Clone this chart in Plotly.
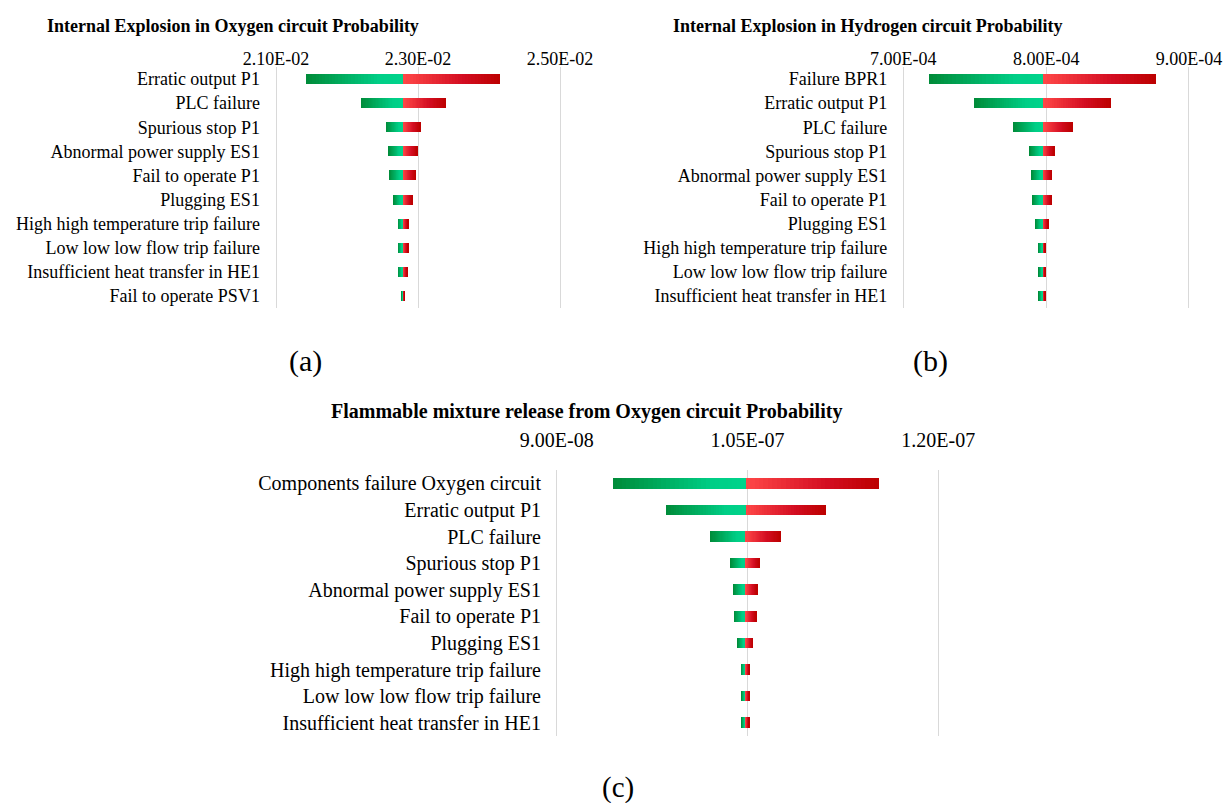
import plotly.graph_objects as go

# ---------------- data ----------------
labels_a = ["Erratic output P1", "PLC failure", "Spurious stop P1", "Abnormal power supply ES1",
            "Fail to operate P1", "Plugging ES1", "High high temperature trip failure",
            "Low low low flow trip failure", "Insufficient heat transfer in HE1", "Fail to operate PSV1"]
base_a = 2.279e-2
low_a = [2.142e-2, 2.219e-2, 2.255e-2, 2.259e-2, 2.260e-2, 2.266e-2, 2.272e-2, 2.272e-2, 2.272e-2, 2.277e-2]
high_a = [2.416e-2, 2.339e-2, 2.303e-2, 2.299e-2, 2.297e-2, 2.292e-2, 2.286e-2, 2.286e-2, 2.285e-2, 2.281e-2]
ticks_a = [2.10e-2, 2.30e-2, 2.50e-2]

labels_b = ["Failure BPR1", "Erratic output P1", "PLC failure", "Spurious stop P1",
            "Abnormal power supply ES1", "Fail to operate P1", "Plugging ES1",
            "High high temperature trip failure", "Low low low flow trip failure",
            "Insufficient heat transfer in HE1"]
base_b = 7.980e-4
low_b = [7.182e-4, 7.499e-4, 7.770e-4, 7.886e-4, 7.902e-4, 7.907e-4, 7.928e-4, 7.949e-4, 7.951e-4, 7.951e-4]
high_b = [8.772e-4, 8.455e-4, 8.189e-4, 8.058e-4, 8.042e-4, 8.040e-4, 8.016e-4, 7.995e-4, 7.995e-4, 7.995e-4]
ticks_b = [7.00e-4, 8.00e-4, 9.00e-4]

labels_c = ["Components failure Oxygen circuit", "Erratic output P1", "PLC failure", "Spurious stop P1",
            "Abnormal power supply ES1", "Fail to operate P1", "Plugging ES1",
            "High high temperature trip failure", "Low low low flow trip failure",
            "Insufficient heat transfer in HE1"]
base_c = 1.0486e-7
low_c = [9.440e-8, 9.857e-8, 1.0208e-7, 1.0370e-7, 1.0391e-7, 1.0396e-7, 1.0424e-7, 1.0452e-7, 1.0455e-7, 1.0455e-7]
high_c = [1.1531e-7, 1.1115e-7, 1.0761e-7, 1.0596e-7, 1.0575e-7, 1.0570e-7, 1.0542e-7, 1.0515e-7, 1.0515e-7, 1.0512e-7]
ticks_c = [9.00e-8, 1.05e-7, 1.20e-7]

titles = ["Internal Explosion in Oxygen circuit Probability",
          "Internal Explosion in Hydrogen circuit Probability",
          "Flammable mixture release from Oxygen circuit Probability"]

# ---------------- styling ----------------
W, H = 1223, 803
FONT = "Liberation Serif, Times New Roman, serif"
GRID = "#d9d9d9"
N_SEG = 30

GREEN_STOPS = [(0.0, (0, 138, 56)), (0.75, (0, 206, 134)), (1.0, (0, 212, 140))]
RED_STOPS = [(0.0, (255, 72, 72)), (0.6, (212, 14, 34)), (1.0, (188, 0, 0))]


def interp(stops, t):
    for (t0, c0), (t1, c1) in zip(stops[:-1], stops[1:]):
        if t <= t1:
            f = (t - t0) / (t1 - t0) if t1 > t0 else 0
            return "rgb(%d,%d,%d)" % tuple(round(a + (b - a) * f) for a, b in zip(c0, c1))
    return "rgb(%d,%d,%d)" % stops[-1][1]


def gradient_bar(labels, start, end, stops, width, xa, ya):
    """One half of a tornado bar, painted as thin overlapping slices."""
    ys, bases, lens, cols = [], [], [], []
    for lab, s, e in zip(labels, start, end):
        step = (e - s) / N_SEG
        for k in range(N_SEG):
            ys.append(lab)
            bases.append(s + step * k)
            lens.append(step * (1.6 if k < N_SEG - 1 else 1.0))
            cols.append(interp(stops, (k + 0.5) / N_SEG))
    return go.Bar(y=ys, x=lens, base=bases, orientation="h", width=width,
                  marker=dict(color=cols, line=dict(width=0)),
                  xaxis=xa, yaxis=ya, showlegend=False, hoverinfo="skip")


def px_x(p):
    return p / W


def px_y(p):
    return 1 - p / H


panels = [
    # labels, base, low, high, ticks, x-range, x-domain px, y-domain px (top, bottom),
    # bar width, font size, x-label standoff, y-label standoff
    (labels_a, base_a, low_a, high_a, ticks_a, [0.0209, 0.0251], (268.9, 567.1), (67, 308), 0.415, 18, -3, 8),
    (labels_b, base_b, low_b, high_b, ticks_b, [6.95e-4, 9.05e-4], (896.2, 1196.1), (67, 308), 0.415, 18, -3, 8),
    (labels_c, base_c, low_c, high_c, ticks_c, [8.9e-8, 1.21e-7], (544.0, 951.0), (470, 736), 0.40, 20, 18, 2),
]

fig = go.Figure()
layout = dict(width=W, height=H, margin=dict(l=0, r=0, t=0, b=0, autoexpand=False),
              paper_bgcolor="white", plot_bgcolor="white", barmode="overlay",
              font=dict(family=FONT, color="black"), bargap=0)

for i, (labs, base, low, high, ticks, xr, xd, yd, bw, fs, xso, yso) in enumerate(panels, start=1):
    xa = "x" if i == 1 else f"x{i}"
    ya = "y" if i == 1 else f"y{i}"
    fig.add_trace(gradient_bar(labs, low, [base] * len(labs), GREEN_STOPS, bw, xa, ya))
    fig.add_trace(gradient_bar(labs, [base] * len(labs), high, RED_STOPS, bw, xa, ya))
    xkey = "xaxis" if i == 1 else f"xaxis{i}"
    ykey = "yaxis" if i == 1 else f"yaxis{i}"
    layout[xkey] = dict(domain=[px_x(xd[0]), px_x(xd[1])], range=xr, anchor=ya, side="top",
                        tickvals=ticks, ticktext=[f"{v:.2E}" for v in ticks],
                        showgrid=True, gridcolor=GRID, gridwidth=1, zeroline=False,
                        showline=False, ticks="", tickfont=dict(size=fs, family=FONT),
                        ticklabelstandoff=xso, fixedrange=True, automargin=False)
    layout[ykey] = dict(domain=[px_y(yd[1]), px_y(yd[0])], anchor=xa,
                        categoryorder="array", categoryarray=labs, autorange="reversed",
                        showgrid=False, zeroline=False, showline=False, ticks="",
                        tickfont=dict(size=fs, family=FONT), ticklabelstandoff=yso,
                        fixedrange=True, automargin=False)

annotations = [
    dict(text=f"<b>{titles[0]}</b>", x=px_x(45), y=px_y(26), xanchor="left", yanchor="middle",
         font=dict(size=18)),
    dict(text=f"<b>{titles[1]}</b>", x=px_x(671), y=px_y(26), xanchor="left", yanchor="middle",
         font=dict(size=18)),
    dict(text=f"<b>{titles[2]}</b>", x=px_x(586), y=px_y(411), xanchor="center", yanchor="middle",
         font=dict(size=20)),
    dict(text="(a)", x=px_x(305), y=px_y(361), xanchor="center", yanchor="middle", font=dict(size=30)),
    dict(text="(b)", x=px_x(930), y=px_y(361), xanchor="center", yanchor="middle", font=dict(size=30)),
    dict(text="(c)", x=px_x(618), y=px_y(787), xanchor="center", yanchor="middle", font=dict(size=29)),
]
for a in annotations:
    a.update(xref="paper", yref="paper", showarrow=False)
    a["font"]["family"] = FONT
    a["font"]["color"] = "black"
layout["annotations"] = annotations

fig.update_layout(**layout)
fig.write_html("out.html")
